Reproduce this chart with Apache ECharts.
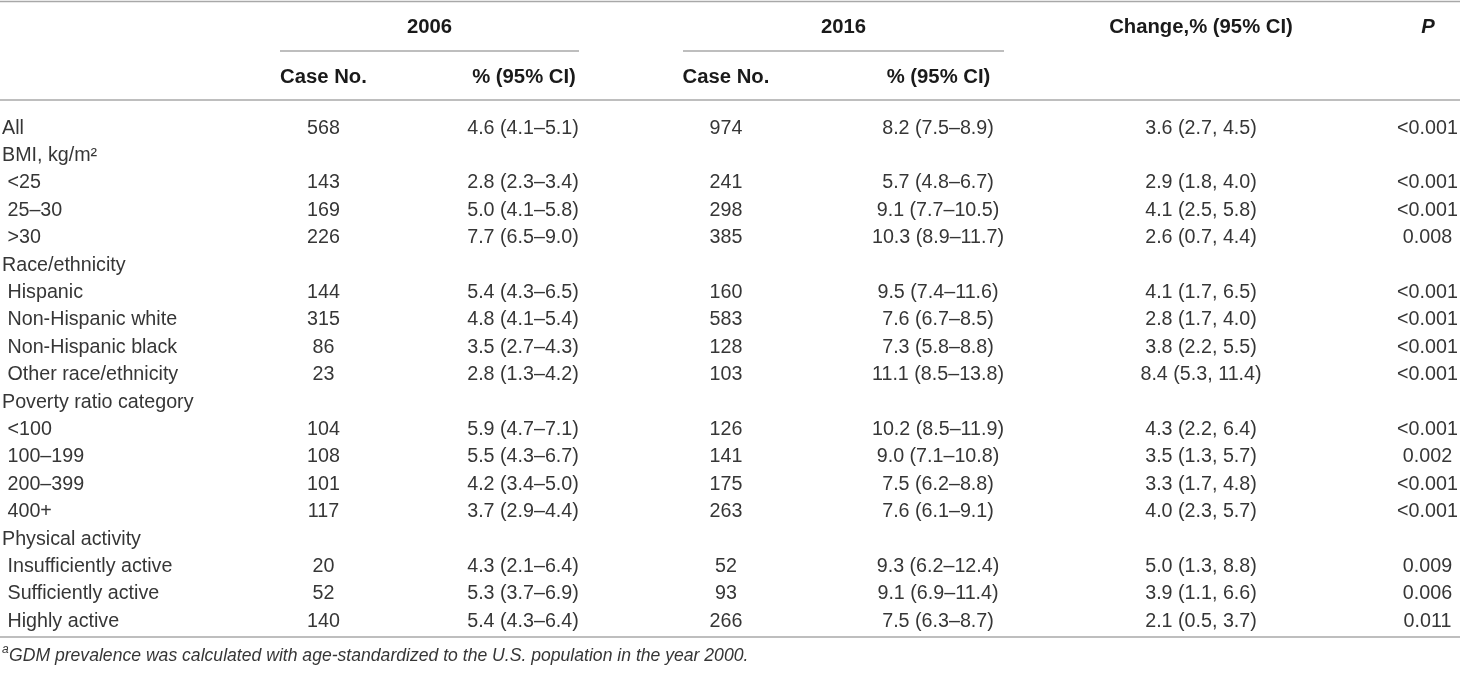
<!DOCTYPE html>
<html>
<head>
<meta charset="utf-8">
<script src="https://cdn.jsdelivr.net/npm/echarts@6/dist/echarts.min.js"></script>
<style>html,body{margin:0;padding:0;background:#fff;}#chart{width:1460px;height:674px;}</style>
</head>
<body>
<div id="chart"></div>
<script>
// ---------- data ----------
const rowLabels = ['All','BMI, kg/m\u00B2','<25','25\u201330','>30','Race/ethnicity','Hispanic','Non-Hispanic white','Non-Hispanic black','Other race/ethnicity','Poverty ratio category','<100','100\u2013199','200\u2013399','400+','Physical activity','Insufficiently active','Sufficiently active','Highly active'];
const rowLevel = [0,0,1,1,1,0,1,1,1,1,0,1,1,1,1,0,1,1,1];
const case2006 = ['568','','143','169','226','','144','315','86','23','','104','108','101','117','','20','52','140'];
const pct2006 = ['4.6 (4.1\u20135.1)','','2.8 (2.3\u20133.4)','5.0 (4.1\u20135.8)','7.7 (6.5\u20139.0)','','5.4 (4.3\u20136.5)','4.8 (4.1\u20135.4)','3.5 (2.7\u20134.3)','2.8 (1.3\u20134.2)','','5.9 (4.7\u20137.1)','5.5 (4.3\u20136.7)','4.2 (3.4\u20135.0)','3.7 (2.9\u20134.4)','','4.3 (2.1\u20136.4)','5.3 (3.7\u20136.9)','5.4 (4.3\u20136.4)'];
const case2016 = ['974','','241','298','385','','160','583','128','103','','126','141','175','263','','52','93','266'];
const pct2016 = ['8.2 (7.5\u20138.9)','','5.7 (4.8\u20136.7)','9.1 (7.7\u201310.5)','10.3 (8.9\u201311.7)','','9.5 (7.4\u201311.6)','7.6 (6.7\u20138.5)','7.3 (5.8\u20138.8)','11.1 (8.5\u201313.8)','','10.2 (8.5\u201311.9)','9.0 (7.1\u201310.8)','7.5 (6.2\u20138.8)','7.6 (6.1\u20139.1)','','9.3 (6.2\u201312.4)','9.1 (6.9\u201311.4)','7.5 (6.3\u20138.7)'];
const changePct = ['3.6 (2.7, 4.5)','','2.9 (1.8, 4.0)','4.1 (2.5, 5.8)','2.6 (0.7, 4.4)','','4.1 (1.7, 6.5)','2.8 (1.7, 4.0)','3.8 (2.2, 5.5)','8.4 (5.3, 11.4)','','4.3 (2.2, 6.4)','3.5 (1.3, 5.7)','3.3 (1.7, 4.8)','4.0 (2.3, 5.7)','','5.0 (1.3, 8.8)','3.9 (1.1, 6.6)','2.1 (0.5, 3.7)'];
const pValues = ['<0.001','','<0.001','<0.001','0.008','','<0.001','<0.001','<0.001','<0.001','','<0.001','0.002','<0.001','<0.001','','0.009','0.006','0.011'];
const groupHeaders = ['2006','2016','Change,% (95% CI)','P'];
const subHeaders = ['Case No.','% (95% CI)','Case No.','% (95% CI)'];
const footnoteMark = 'a';
const footnote = 'GDM prevalence was calculated with age-standardized to the U.S. population in the year 2000.';

// ---------- layout / style ----------
const W = 1460;
const FONT = '"Liberation Sans", "Helvetica Neue", Arial, sans-serif';
const BODY_SIZE = 19.7, HEAD_SIZE = 20.3;
const BODY_COLOR = '#363636', HEAD_COLOR = '#1a1a1a', RULE_COLOR = '#a8a8a8';
const columns = [
  {values: rowLabels, x: 2, align: 'left', label: true},
  {values: case2006, x: 323.5, align: 'center'},
  {values: pct2006, x: 523, align: 'center'},
  {values: case2016, x: 726, align: 'center'},
  {values: pct2016, x: 938, align: 'center'},
  {values: changePct, x: 1201, align: 'center'},
  {values: pValues, x: 1427.5, align: 'center'}
];
const groupX = [429.5, 843.5, 1201, 1428];
const subX = [323.5, 524, 726, 938.5];
const spans = [[280, 579], [683, 1004]];

const chart = echarts.init(document.getElementById('chart'), null, {renderer: 'canvas'});

const series = columns.map(col => ({
  type: 'custom',
  coordinateSystem: 'cartesian2d',
  silent: true,
  data: col.values.map((v, i) => [col.x, i]),
  renderItem: function (params, api) {
    const i = params.dataIndex;
    let text = col.values[i];
    if (!text) return null;
    const p = api.coord([api.value(0), api.value(1)]);
    let x = p[0];
    if (col.label && rowLevel[i] === 1) x += 5.5;
    return {
      type: 'text',
      x: x, y: p[1] + 0.5,
      style: {
        text: text,
        fill: BODY_COLOR,
        font: BODY_SIZE + 'px ' + FONT,
        align: col.align,
        verticalAlign: 'middle'
      }
    };
  }
}));

const graphics = [];
// rules
const rule = (x1, x2, y) => ({type: 'line', silent: true, shape: {x1: x1, y1: y, x2: x2, y2: y}, style: {stroke: RULE_COLOR, lineWidth: 1.6}});
graphics.push(rule(0, W, 1.5));
graphics.push(rule(0, W, 100));
graphics.push(rule(0, W, 637));
spans.forEach(s => graphics.push(rule(s[0], s[1], 51)));
// group headers
groupHeaders.forEach((t, k) => graphics.push({
  type: 'text', silent: true, x: groupX[k], y: 27.5,
  style: {text: t, fill: HEAD_COLOR, font: (t === 'P' ? 'italic ' : '') + 'bold ' + HEAD_SIZE + 'px ' + FONT, align: 'center', verticalAlign: 'middle'}
}));
subHeaders.forEach((t, k) => graphics.push({
  type: 'text', silent: true, x: subX[k], y: 77.5,
  style: {text: t, fill: HEAD_COLOR, font: 'bold ' + HEAD_SIZE + 'px ' + FONT, align: 'center', verticalAlign: 'middle'}
}));
// footnote
graphics.push({type: 'text', silent: true, x: 2, y: 650,
  style: {text: footnoteMark, fill: BODY_COLOR, font: 'italic 12px ' + FONT, align: 'left', verticalAlign: 'middle'}});
graphics.push({type: 'text', silent: true, x: 9, y: 656,
  style: {text: footnote, fill: BODY_COLOR, font: 'italic 17.6px ' + FONT, align: 'left', verticalAlign: 'middle'}});

chart.setOption({
  animation: false,
  backgroundColor: '#ffffff',
  grid: {left: 0, right: 0, top: 114, bottom: 39.5, containLabel: false},
  xAxis: {type: 'value', min: 0, max: W, show: false},
  yAxis: {type: 'category', data: rowLabels, inverse: true, show: false},
  series: series,
  graphic: graphics
});
</script>
</body>
</html>
